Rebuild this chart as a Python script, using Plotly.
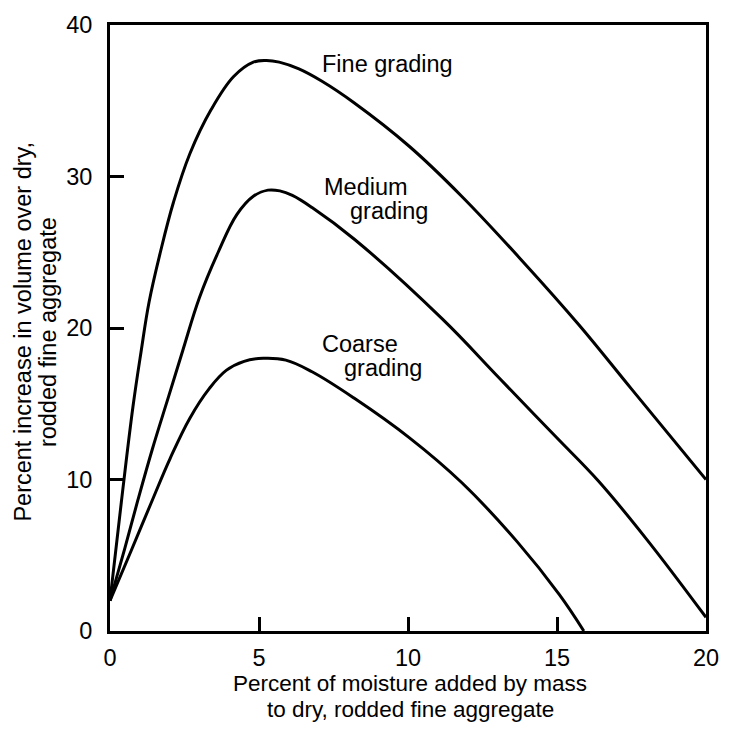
import plotly.graph_objects as go

# Data
fine_x = [0, 0.38, 0.77, 1.04, 1.31, 1.69, 2.13, 2.68, 3.39, 4.15, 4.81, 5.25, 5.68, 6.34, 7.1, 8.2, 10.05, 11.8, 13.88, 15.74, 17.49, 20]
fine_y = [2.0, 8.5, 14.8, 18.4, 21.7, 25.0, 28.3, 31.5, 34.4, 36.6, 37.55, 37.66, 37.55, 37.1, 36.3, 34.85, 31.98, 28.7, 24.33, 20.2, 16.0, 10.0]

medium_x = [0, 0.49, 0.93, 1.42, 1.97, 2.44, 3.0, 3.63, 4.26, 4.81, 5.3, 5.7, 6.12, 6.78, 8.2, 11.15, 13.06, 14.97, 16.39, 18.03, 20]
medium_y = [2.0, 5.4, 8.6, 12.0, 15.5, 18.5, 22.0, 25.0, 27.5, 28.7, 29.1, 29.05, 28.75, 27.95, 25.86, 20.6, 16.7, 12.8, 9.9, 6.0, 0.9]

coarse_x = [0, 0.71, 1.37, 2.02, 2.68, 3.33, 3.9, 4.5, 5.14, 5.9, 6.78, 8.2, 10.05, 11.8, 13.66, 15.08, 15.9]
coarse_y = [2.0, 5.3, 8.4, 11.4, 14.05, 16.0, 17.2, 17.8, 18.0, 17.88, 17.11, 15.36, 12.75, 9.8, 5.9, 2.4, 0.0]

x_ticks = [0, 5, 10, 15, 20]
y_ticks = [0, 10, 20, 30, 40]

FONT = "Liberation Sans, Arial, Helvetica, sans-serif"
FS = 23.5

fig = go.Figure()
for xs, ys in [(fine_x, fine_y), (medium_x, medium_y), (coarse_x, coarse_y)]:
    fig.add_trace(go.Scatter(x=xs, y=ys, mode="lines",
                             line=dict(color="black", width=3, shape="spline", smoothing=1.1),
                             showlegend=False, hoverinfo="skip"))

# plot area in page coords: 110..717 x 21..631
W, H = 731, 737
PL, PR, PT, PB = 110, 717, 21, 631
pw, ph = PR - PL, PB - PT

def px(x):
    return (x - PL) / pw

def py(y):
    return (PB - y) / ph

ann = []
# curve labels (data coords)
for text, x, y in [("Fine grading", 9.3, 37.45),
                   ("Medium", 8.6, 29.3), ("grading", 9.35, 27.75),
                   ("Coarse", 8.4, 18.95), ("grading", 9.15, 17.35)]:
    ann.append(dict(x=x, y=y, xref="x", yref="y", text=text, showarrow=False,
                    xanchor="center", yanchor="middle",
                    font=dict(family=FONT, size=FS, color="black")))
# x title lines
for text, cy in [("Percent of moisture added by mass", 684), ("to dry, rodded fine aggregate", 710)]:
    ann.append(dict(x=px(416), y=py(cy), xref="paper", yref="paper", text=text, showarrow=False,
                    xanchor="center", yanchor="middle",
                    font=dict(family=FONT, size=22.5, color="black")))
# y title lines
for text, cx in [("Percent increase in volume over dry,", 21), ("rodded fine aggregate", 47)]:
    ann.append(dict(x=px(cx), y=py(330), xref="paper", yref="paper", text=text, showarrow=False,
                    xanchor="center", yanchor="middle", textangle=-90,
                    font=dict(family=FONT, size=FS, color="black")))

axis_common = dict(showgrid=False, zeroline=False, showline=True, linecolor="black", linewidth=3,
                   mirror=True, ticks="inside", ticklen=14, tickwidth=3, tickcolor="black",
                   tickfont=dict(family=FONT, size=FS, color="black"))

fig.update_layout(
    width=W, height=H,
    margin=dict(l=PL, r=W - PR, t=PT, b=H - PB, pad=0),
    paper_bgcolor="white", plot_bgcolor="white",
    xaxis=dict(range=[0, 20], tickvals=x_ticks, ticklabelstandoff=4, **axis_common),
    yaxis=dict(range=[0, 40], tickvals=y_ticks, ticklabelstandoff=10, **axis_common),
    annotations=ann,
)

fig.write_html("out.html", config={"displayModeBar": False},
               post_script="document.body.style.margin='0';document.body.style.overflow='hidden';")
